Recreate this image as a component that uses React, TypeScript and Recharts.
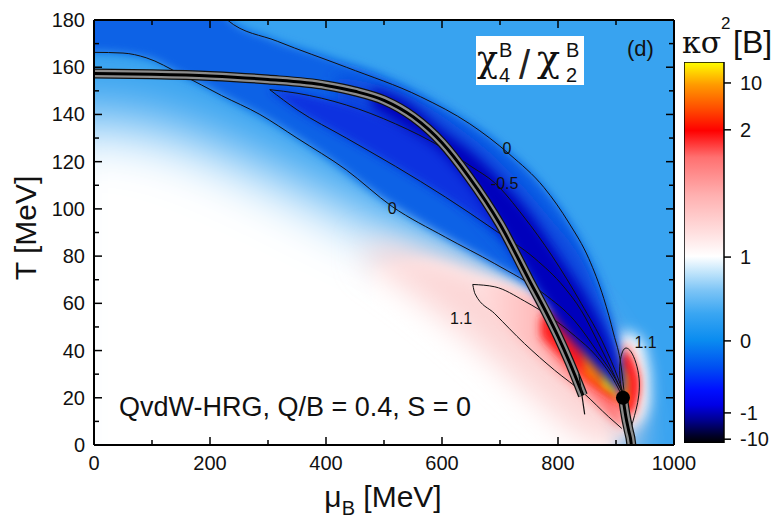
import React from "react";
import {
	Area,
	Bar,
	BarChart,
	ComposedChart,
	Line,
	Scatter,
	XAxis,
	YAxis,
} from "recharts";

const SANS = "'Liberation Sans', Arial, Helvetica, sans-serif";
const SERIF = "'DejaVu Serif', 'Liberation Serif', serif";

const xTicks = [0, 100, 200, 300, 400, 500, 600, 700, 800, 900, 1000];
const yTicks = [0, 10, 20, 30, 40, 50, 60, 70, 80, 90, 100, 110, 120, 130, 140, 150, 160, 170, 180];

// colour bar: tick labels and where they sit on the bar (0 = bottom, 1 = top)
const cbarLabels = ["-10", "-1", "0", "1", "2", "10"];
const cbarPos = [0.01, 0.079, 0.268, 0.488, 0.822, 0.945];

// colour patches of the map: [muB, T low, T high]
const fieldBase = [[-100, -60, 220], [1100, -60, 220]];
const whiteWide = [
	[-100, -60, 138], [0, -60, 138], [100, -60, 135], [200, -60, 127], [300, -60, 116],
	[400, -60, 104], [500, -60, 92], [600, -60, 80], [700, -60, 66], [780, -60, 50],
	[840, -60, 30], [880, -60, 10], [900, -60, -60],
];
const whiteSharp = [
	[480, -60, 74], [560, -60, 78], [650, -60, 73], [720, -60, 67], [770, -60, 60],
	[800, -60, 50], [840, -60, 34], [870, -60, 18], [895, -60, 4],
];
const whiteHalo = [[893, 0, 38], [915, 6, 48], [945, 10, 44], [958, 18, 30]];
const pinkWide = [
	[470, 78, 86], [560, 62, 82], [660, 42, 74], [760, 20, 64], [840, 4, 56], [900, 0, 34], [930, 0, 14],
];
const pinkInner = [
	[653, 68, 68], [691, 55, 68], [742, 42, 64], [794, 31, 59], [845, 21, 51], [887, 12, 40], [912, 7, 24],
];
const redCore = [
	[770, 46, 54], [800, 38, 57], [830, 31, 53], [860, 25, 48], [885, 21, 42], [905, 18, 33], [913, 17, 24],
];
const orangeCore = [[845, 30, 45], [870, 25, 43], [893, 21, 38], [910, 18, 29]];
const yellowCore = [[878, 25, 36], [895, 22, 34], [910, 19, 28]];
const loopPink = [[902, 14, 38], [915, 10, 43], [928, 11, 41], [938, 15, 35], [944, 22, 30]];
const loopRed = [[906, 17, 35], [915, 14, 39], [925, 14, 37], [934, 18, 32], [939, 23, 28]];
const loopOrange = [[907, 19, 34], [914, 17, 32], [921, 19, 28]];
const negBand = [
	[-100, 166.3, 220], [0, 166.3, 220], [90, 164, 220], [150, 157, 220], [200, 151, 220],
	[230, 147, 181], [300, 138, 172.5], [400, 122, 164.5], [500, 104, 156], [600, 89, 143],
	[700, 75, 127], [776, 64, 109], [820, 54, 94], [850, 46, 80], [880, 37, 61], [900, 27.5, 43],
	[915, 20, 20],
];
const negDeep = [
	[420, 140, 156], [520, 128, 150], [620, 108, 136], [700, 88, 120], [780, 64, 98],
	[850, 42, 74], [900, 25, 42],
];
const minusHalf = [
	[303, 150, 150.5], [350, 142, 149], [435, 130, 144], [520, 118, 136], [600, 106, 126],
	[691, 91, 111], [760, 79, 92], [810, 67, 74], [845, 55, 58], [880, 40, 42], [915, 20, 20],
];
const darkCore = [
	[480, 143, 151], [540, 134, 145], [600, 124, 133], [650, 110, 124], [700, 92, 112],
	[750, 72, 98], [800, 52, 80], [850, 38, 62], [885, 29, 45], [908, 21, 29],
];

// contour lines and curves: [muB, T]
const upperZero = [
	[222, 182], [230, 180], [316, 171], [435, 160], [563, 147.5], [648, 136], [717, 123],
	[776, 109], [819, 94], [853, 79], [879, 62], [896, 47], [909, 33], [915, 20],
];
const lowerZero = [
	[-10, 166.3], [0, 166.3], [50, 166], [90, 164], [150, 157], [220, 148], [286, 140], [350, 130],
	[435, 116.5], [514, 101], [606, 88], [691, 76.8], [776, 64], [828, 52.8], [870, 38.7],
	[900, 27.5], [915, 20],
];
const halfUpper = [
	[303, 150.5], [350, 149], [435, 144], [520, 136], [600, 126], [650, 118], [691, 111],
	[740, 97], [790, 80], [840, 60], [880, 42], [904, 28], [915, 20],
];
const halfLower = [
	[303, 150.5], [350, 142], [435, 130], [520, 118], [606, 105], [691, 91], [760, 79],
	[810, 67], [840, 57], [870, 43], [900, 28], [915, 20],
];
const oneUpper = [[653, 68], [691, 67], [742, 61], [794, 53], [830, 46], [865, 38], [895, 28], [912, 20]];
const oneLower = [[653, 68], [657, 64], [691, 55.6], [742, 43], [794, 31.7], [845, 21.8], [887, 12], [910, 7]];
const oneLoop = [
	[912, 20], [906, 28], [906, 35], [911, 40], [917, 41.6], [926, 40], [935, 35], [941, 28],
	[940, 21], [935, 15], [929, 10], [925, 6],
];
const phaseLine = [
	[0, 157.3], [100, 157], [200, 156.3], [300, 154.8], [400, 152.3], [450, 149.8], [500, 146],
	[550, 139], [600, 128], [645, 114], [700, 93.5], [750, 70], [780, 56], [800, 46], [820, 35],
	[843, 21],
];
const phaseTail = [[836, 30], [846, 13]];
const cpLine = [[912, 20], [917, 12], [922, 6], [926, 1], [928, -5]];
const criticalPoint = [[912, 20]];

const contourLabels = [
	{ mu: 712, T: 126, text: "0" },
	{ mu: 708, T: 111, text: "-0.5" },
	{ mu: 514, T: 100.4, text: "0" },
	{ mu: 633, T: 54, text: "1.1" },
	{ mu: 951, T: 43.7, text: "1.1" },
];

const toRange = (rows: number[][]) => rows.map(([mu, lo, hi]) => ({ mu, range: [lo, hi] }));
const toPts = (rows: number[][]) => rows.map(([mu, T]) => ({ mu, T }));

const patches = [
	{ id: "base", rows: fieldBase, fill: "#38a3f0", blur: 0 },
	{ id: "wWide", rows: whiteWide, fill: "#ffffff", blur: 30 },
	{ id: "wSharp", rows: whiteSharp, fill: "#ffffff", blur: 6 },
	{ id: "wHalo", rows: whiteHalo, fill: "#ffffff", blur: 7 },
	{ id: "pWide", rows: pinkWide, fill: "#fcd6d6", blur: 16 },
	{ id: "pIn", rows: pinkInner, fill: "url(#pinkGrad)", blur: 5 },
	{ id: "red", rows: redCore, fill: "#ff1a1a", blur: 5 },
	{ id: "orange", rows: orangeCore, fill: "#ff7a00", blur: 4 },
	{ id: "yellow", rows: yellowCore, fill: "#ffdc00", blur: 3 },
	{ id: "lPink", rows: loopPink, fill: "#ff9c9c", blur: 4 },
	{ id: "lRed", rows: loopRed, fill: "#ff2424", blur: 3 },
	{ id: "lOrange", rows: loopOrange, fill: "#ff9a00", blur: 3 },
	{ id: "neg", rows: negBand, fill: "#0a62e6", blur: 5 },
	{ id: "negDeep", rows: negDeep, fill: "#0846de", blur: 8 },
	{ id: "half", rows: minusHalf, fill: "#0832e0", blur: 4 },
	{ id: "core", rows: darkCore, fill: "#0006bc", blur: 6 },
];
const blurs = [3, 4, 5, 6, 7, 8, 16, 30];

const tickStyle = { fontSize: 20, fill: "#111", fontFamily: SANS };

const BottomTick = (props: any) => {
	const { x, y, payload } = props;
	const major = payload.value % 200 === 0;
	return (
		<g>
			<line x1={x} x2={x} y1={y} y2={y - (major ? 8 : 5)} stroke="#000" strokeWidth={1.5} />
			{major && (
				<text x={x} y={y + 25} textAnchor="middle" {...tickStyle}>
					{payload.value}
				</text>
			)}
		</g>
	);
};
const TopTick = (props: any) => {
	const { x, y, payload } = props;
	const major = payload.value % 200 === 0;
	return <line x1={x} x2={x} y1={y} y2={y + (major ? 8 : 5)} stroke="#000" strokeWidth={1.5} />;
};
const LeftTick = (props: any) => {
	const { x, y, payload } = props;
	const major = payload.value % 20 === 0;
	return (
		<g>
			<line x1={x} x2={x + (major ? 8 : 5)} y1={y} y2={y} stroke="#000" strokeWidth={1.5} />
			{major && (
				<text x={x - 9} y={y + 7} textAnchor="end" {...tickStyle}>
					{payload.value}
				</text>
			)}
		</g>
	);
};
const RightTick = (props: any) => {
	const { x, y, payload } = props;
	const major = payload.value % 20 === 0;
	return <line x1={x} x2={x - (major ? 8 : 5)} y1={y} y2={y} stroke="#000" strokeWidth={1.5} />;
};

const contourLines = [upperZero, lowerZero, halfUpper, halfLower, oneUpper, oneLower];

export default function App() {
	return (
		<div
			style={{
				position: "absolute",
				left: 0,
				top: 0,
				width: 776,
				height: 521,
				overflow: "hidden",
				background: "#fff",
				fontFamily: SANS,
			}}
		>
			<ComposedChart
				width={776}
				height={521}
				margin={{ top: 19, right: 101, bottom: 16, left: 0 }}
			>
				<defs>
					{blurs.map((b) => (
						<filter
							key={b}
							id={`blur${b}`}
							filterUnits="userSpaceOnUse"
							x={0}
							y={0}
							width={776}
							height={521}
						>
							<feGaussianBlur stdDeviation={b} />
						</filter>
					))}
					<linearGradient id="pinkGrad" x1="0" y1="0" x2="1" y2="0">
						<stop offset="0%" stopColor="#ffe2e2" />
						<stop offset="50%" stopColor="#ffb4b4" />
						<stop offset="100%" stopColor="#ff7070" />
					</linearGradient>
				</defs>
				<XAxis
					dataKey="mu"
					type="number"
					domain={[0, 1000]}
					allowDataOverflow
					ticks={xTicks}
					interval={0}
					height={60}
					tickSize={0}
					tickMargin={0}
					tickLine={false}
					tick={<BottomTick />}
					axisLine={{ stroke: "#000", strokeWidth: 2 }}
				/>
				<XAxis
					xAxisId="top"
					orientation="top"
					dataKey="mu"
					type="number"
					domain={[0, 1000]}
					allowDataOverflow
					ticks={xTicks}
					interval={0}
					height={1}
					tickSize={0}
					tickMargin={0}
					tickLine={false}
					tick={<TopTick />}
					axisLine={{ stroke: "#000", strokeWidth: 2 }}
				/>
				<YAxis
					type="number"
					domain={[0, 180]}
					allowDataOverflow
					ticks={yTicks}
					interval={0}
					width={94}
					tickSize={0}
					tickMargin={0}
					tickLine={false}
					tick={<LeftTick />}
					axisLine={{ stroke: "#000", strokeWidth: 2 }}
				/>
				<YAxis
					yAxisId="r"
					orientation="right"
					type="number"
					domain={[0, 180]}
					allowDataOverflow
					ticks={yTicks}
					interval={0}
					width={1}
					tickSize={0}
					tickMargin={0}
					tickLine={false}
					tick={<RightTick />}
					axisLine={{ stroke: "#000", strokeWidth: 2 }}
				/>
				{patches.map((p) => (
					<Area
						key={p.id}
						data={toRange(p.rows)}
						dataKey="range"
						type="monotone"
						fill={p.fill}
						fillOpacity={1}
						stroke="none"
						filter={p.blur ? `url(#blur${p.blur})` : undefined}
						dot={false}
						activeDot={false}
						isAnimationActive={false}
					/>
				))}
				{contourLines.map((c, i) => (
					<Line
						key={`c${i}`}
						data={toPts(c)}
						dataKey="T"
						type="monotone"
						stroke="#111"
						strokeWidth={1}
						dot={false}
						activeDot={false}
						isAnimationActive={false}
					/>
				))}
				<Line
					data={toPts(oneLoop)}
					dataKey="T"
					type="basis"
					stroke="#111"
					strokeWidth={1}
					dot={false}
					isAnimationActive={false}
				/>
				<Line data={toPts(phaseLine)} dataKey="T" type="monotone" stroke="#111" strokeWidth={10} dot={false} isAnimationActive={false} />
				<Line data={toPts(phaseLine)} dataKey="T" type="monotone" stroke="#8c8c8c" strokeWidth={7.5} dot={false} isAnimationActive={false} />
				<Line data={toPts(phaseLine)} dataKey="T" type="monotone" stroke="#000" strokeWidth={3} dot={false} isAnimationActive={false} />
				<Line data={toPts(phaseTail)} dataKey="T" type="linear" stroke="#111" strokeWidth={1.2} dot={false} isAnimationActive={false} />
				<Line data={toPts(cpLine)} dataKey="T" type="monotone" stroke="#111" strokeWidth={10} dot={false} isAnimationActive={false} />
				<Line data={toPts(cpLine)} dataKey="T" type="monotone" stroke="#8c8c8c" strokeWidth={7.5} dot={false} isAnimationActive={false} />
				<Line data={toPts(cpLine)} dataKey="T" type="monotone" stroke="#000" strokeWidth={3} dot={false} isAnimationActive={false} />
				<Scatter
					data={toPts(criticalPoint)}
					dataKey="T"
					isAnimationActive={false}
					shape={(p: any) => <circle cx={p.cx} cy={p.cy} r={7} fill="#000" />}
				/>
				<Scatter
					data={contourLabels}
					dataKey="T"
					isAnimationActive={false}
					shape={(p: any) => (
						<text
							x={p.cx}
							y={p.cy + 6}
							textAnchor="middle"
							fontSize={16}
							fill="#111"
							fontFamily={SANS}
						>
							{p.payload.text}
						</text>
					)}
				/>
			</ComposedChart>

			<svg
				width={776}
				height={521}
				style={{ position: "absolute", left: 0, top: 0, pointerEvents: "none" }}
			>
				<text x={119} y={416} fontSize={27} fill="#111" fontFamily={SANS}>
					QvdW-HRG, Q/B = 0.4, S = 0
				</text>
				<rect x={476} y={36} width={108} height={49} fill="#fff" />
				<text x={477} y={71} fontSize={38} fill="#111" fontFamily={SERIF} textLength={21} lengthAdjust="spacingAndGlyphs">χ</text>
				<text x={499} y={57} fontSize={20} fill="#111" fontFamily={SANS}>B</text>
				<text x={499} y={82} fontSize={20} fill="#111" fontFamily={SANS}>4</text>
				<text x={519} y={79} fontSize={40} fill="#222" fontFamily={SANS}>/</text>
				<text x={537} y={71} fontSize={38} fill="#111" fontFamily={SERIF} textLength={23} lengthAdjust="spacingAndGlyphs">χ</text>
				<text x={566} y={57} fontSize={20} fill="#111" fontFamily={SANS}>B</text>
				<text x={566} y={82} fontSize={20} fill="#111" fontFamily={SANS}>2</text>
				<text x={627} y={56} fontSize={22} fill="#111" fontFamily={SANS}>(d)</text>

				<text x={682} y={53} fontSize={30} fill="#111" fontFamily={SERIF}>κσ</text>
				<text x={721} y={29} fontSize={17} fill="#111" fontFamily={SANS}>2</text>
				<text x={733} y={53} fontSize={32} fill="#111" fontFamily={SANS}>[B]</text>

				<text
					transform="rotate(-90)"
					x={-228}
					y={36}
					textAnchor="middle"
					fontSize={30}
					fill="#111"
					fontFamily={SANS}
				>
					T [MeV]
				</text>
				<text x={383} y={507} textAnchor="middle" fontSize={30} fill="#111" fontFamily={SANS}>
					μ
					<tspan fontSize={20} dy={8}>B</tspan>
					<tspan dy={-8}> [MeV]</tspan>
				</text>
			</svg>

			<div style={{ position: "absolute", left: 684, top: 62 }}>
				<BarChart
					width={90}
					height={395}
					data={[{ k: "bar", v: 1 }]}
					margin={{ top: 0, right: 0, bottom: 14, left: 0 }}
					barCategoryGap={0}
				>
					<defs>
						<linearGradient id="cbar" x1="0" y1="1" x2="0" y2="0">
							<stop offset="0%" stopColor="#000000" />
							<stop offset="2%" stopColor="#00002a" />
							<stop offset="6%" stopColor="#000090" />
							<stop offset="10%" stopColor="#0000e6" />
							<stop offset="14%" stopColor="#0010ff" />
							<stop offset="20%" stopColor="#0050f2" />
							<stop offset="27%" stopColor="#0a8cf0" />
							<stop offset="34%" stopColor="#3aa6f2" />
							<stop offset="40%" stopColor="#7cc4f6" />
							<stop offset="45%" stopColor="#c4e6fb" />
							<stop offset="49%" stopColor="#ffffff" />
							<stop offset="55%" stopColor="#ffe0e0" />
							<stop offset="65%" stopColor="#ffb0b0" />
							<stop offset="75%" stopColor="#ff7070" />
							<stop offset="82%" stopColor="#ff0000" />
							<stop offset="88%" stopColor="#ff5000" />
							<stop offset="94%" stopColor="#ff9a00" />
							<stop offset="100%" stopColor="#ffff00" />
						</linearGradient>
					</defs>
					<XAxis dataKey="k" hide />
					<YAxis
						orientation="right"
						type="number"
						domain={[0, 1]}
						allowDataOverflow
						ticks={cbarPos}
						interval={0}
						width={50}
						tickSize={7}
						tickMargin={9}
						tickFormatter={(_v: number, i: number) => cbarLabels[i]}
						tick={tickStyle}
						tickLine={{ stroke: "#000", strokeWidth: 1.5 }}
						axisLine={false}
					/>
					<Bar
						dataKey="v"
						fill="url(#cbar)"
						stroke="#000"
						strokeWidth={1.5}
						isAnimationActive={false}
					/>
				</BarChart>
			</div>
		</div>
	);
}
